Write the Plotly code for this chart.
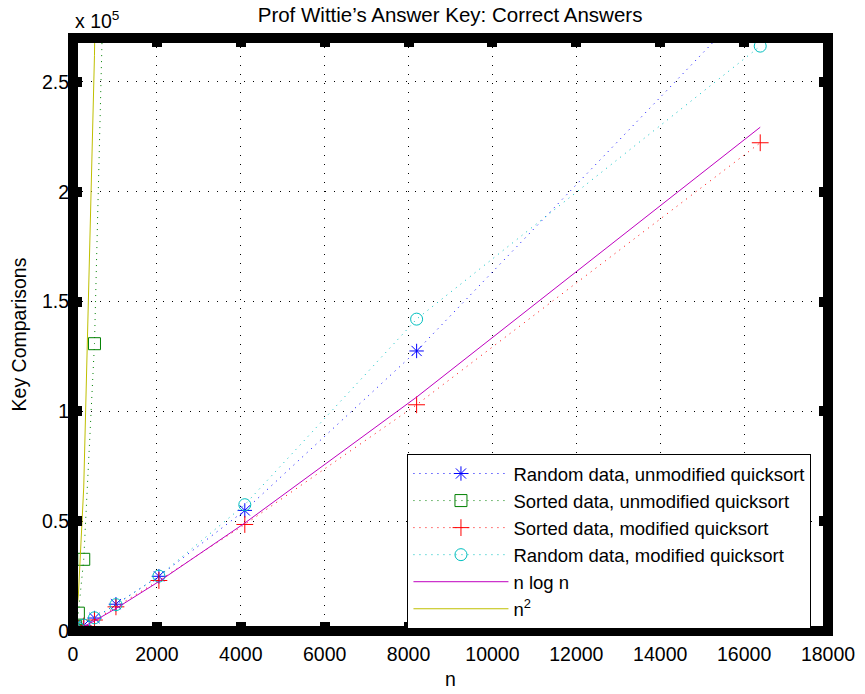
import plotly.graph_objects as go

n_vals = [16, 32, 64, 128, 256, 512, 1024, 2048, 4096, 8192, 16384]
random_unmod = [70, 180, 450, 1100, 2600, 5900, 12200, 24900, 54900, 127500, 290400]
sorted_unmod = [120, 496, 2016, 8128, 32640, 130816, 523776, 2096128, 8386560, 33550336, 134209536]
sorted_mod = [60, 160, 400, 1000, 2300, 5000, 11000, 23000, 48500, 103000, 222300]
random_mod = [75, 190, 480, 1150, 2700, 6000, 12000, 25000, 57500, 142000, 266300]
nlogn_vals = [64, 160, 384, 896, 2048, 4608, 10240, 22528, 49152, 106496, 229376]
nsq_vals = [256, 1024, 4096, 16384, 65536, 262144, 1048576, 4194304, 16777216, 67108864, 268435456]

x_ticks = [0, 2000, 4000, 6000, 8000, 10000, 12000, 14000, 16000, 18000]
x_tick_labels = ["0", "2000", "4000", "6000", "8000", "10000", "12000", "14000", "16000", "18000"]
y_ticks = [0, 50000, 100000, 150000, 200000, 250000]
y_tick_labels = ["0", "0.5", "1", "1.5", "2", "2.5"]

FONT = "Liberation Sans, Arial, Helvetica, sans-serif"

fig = go.Figure()

def marker_trace(y, name, color, symbol):
    return go.Scatter(
        x=n_vals, y=y, name=name, mode="lines+markers",
        line=dict(color=color, width=1, dash="1px,5px"),
        marker=dict(symbol=symbol, size=12, color=color,
                    line=dict(color=color, width=1)),
    )

fig.add_trace(marker_trace(random_unmod, "Random data, unmodified quicksort", "rgb(0,0,255)", "asterisk-open"))
fig.add_trace(marker_trace(sorted_unmod, "Sorted data, unmodified quicksort", "rgb(0,128,0)", "square-open"))
fig.add_trace(marker_trace(sorted_mod, "Sorted data, modified quicksort", "rgb(255,0,0)", "cross-thin-open"))
fig.add_trace(marker_trace(random_mod, "Random data, modified quicksort", "rgb(0,191,191)", "circle-open"))
fig.add_trace(go.Scatter(x=n_vals, y=nlogn_vals, name="n log n", mode="lines",
                         line=dict(color="rgb(191,0,191)", width=1)))
fig.add_trace(go.Scatter(x=n_vals, y=nsq_vals, name="n<sup>2</sup>", mode="lines",
                         line=dict(color="rgb(191,191,0)", width=1)))

fig.update_layout(
    width=865, height=694,
    margin=dict(l=73, r=37, t=38, b=63, autoexpand=False),
    paper_bgcolor="white", plot_bgcolor="white",
    font=dict(family=FONT, size=19.5, color="black"),
    title=dict(text="Prof Wittie\u2019s Answer Key: Correct Answers",
               x=0.5203, xanchor="center", y=0.978, yanchor="middle",
               font=dict(size=20.5, family=FONT)),
    xaxis=dict(range=[0, 18000], tickvals=x_ticks, ticktext=x_tick_labels,
               showgrid=True, automargin=False,
               gridcolor="black", gridwidth=1, griddash="1px,8px",
               zeroline=False, showline=False, ticks="inside", ticklen=9,
               tickwidth=10, tickcolor="black", mirror="ticks",
               ticklabelstandoff=9,
               title=dict(text="n", standoff=8, font=dict(size=19.5))),
    yaxis=dict(range=[0, 270000], tickvals=y_ticks, ticktext=y_tick_labels,
               showgrid=True, automargin=False, gridcolor="black", gridwidth=1,
               griddash="1px,8px",
               zeroline=False, showline=False, ticks="inside", ticklen=9,
               tickwidth=10, tickcolor="black", mirror="ticks",
               ticklabelstandoff=3,
               title=dict(text="Key Comparisons", standoff=10, font=dict(size=19.5))),
    legend=dict(x=0.443, y=0.2985, xanchor="left", yanchor="top",
                bgcolor="white", bordercolor="black", borderwidth=1,
                font=dict(size=18.5, family=FONT), itemwidth=95,
                tracegroupgap=0),
    showlegend=True,
)

fig.add_shape(type="rect", xref="paper", yref="paper", x0=0, x1=1, y0=0, y1=1,
              line=dict(color="black", width=10), layer="above")

fig.add_annotation(text="x 10<sup>5</sup>", xref="paper", yref="paper",
                   x=0.0, y=1.0, xanchor="left", yanchor="bottom", yshift=4,
                   showarrow=False, font=dict(size=19.5, family=FONT))

fig.write_html("out.html", config={"displayModeBar": False},
               post_script="document.body.style.margin='0px';")
